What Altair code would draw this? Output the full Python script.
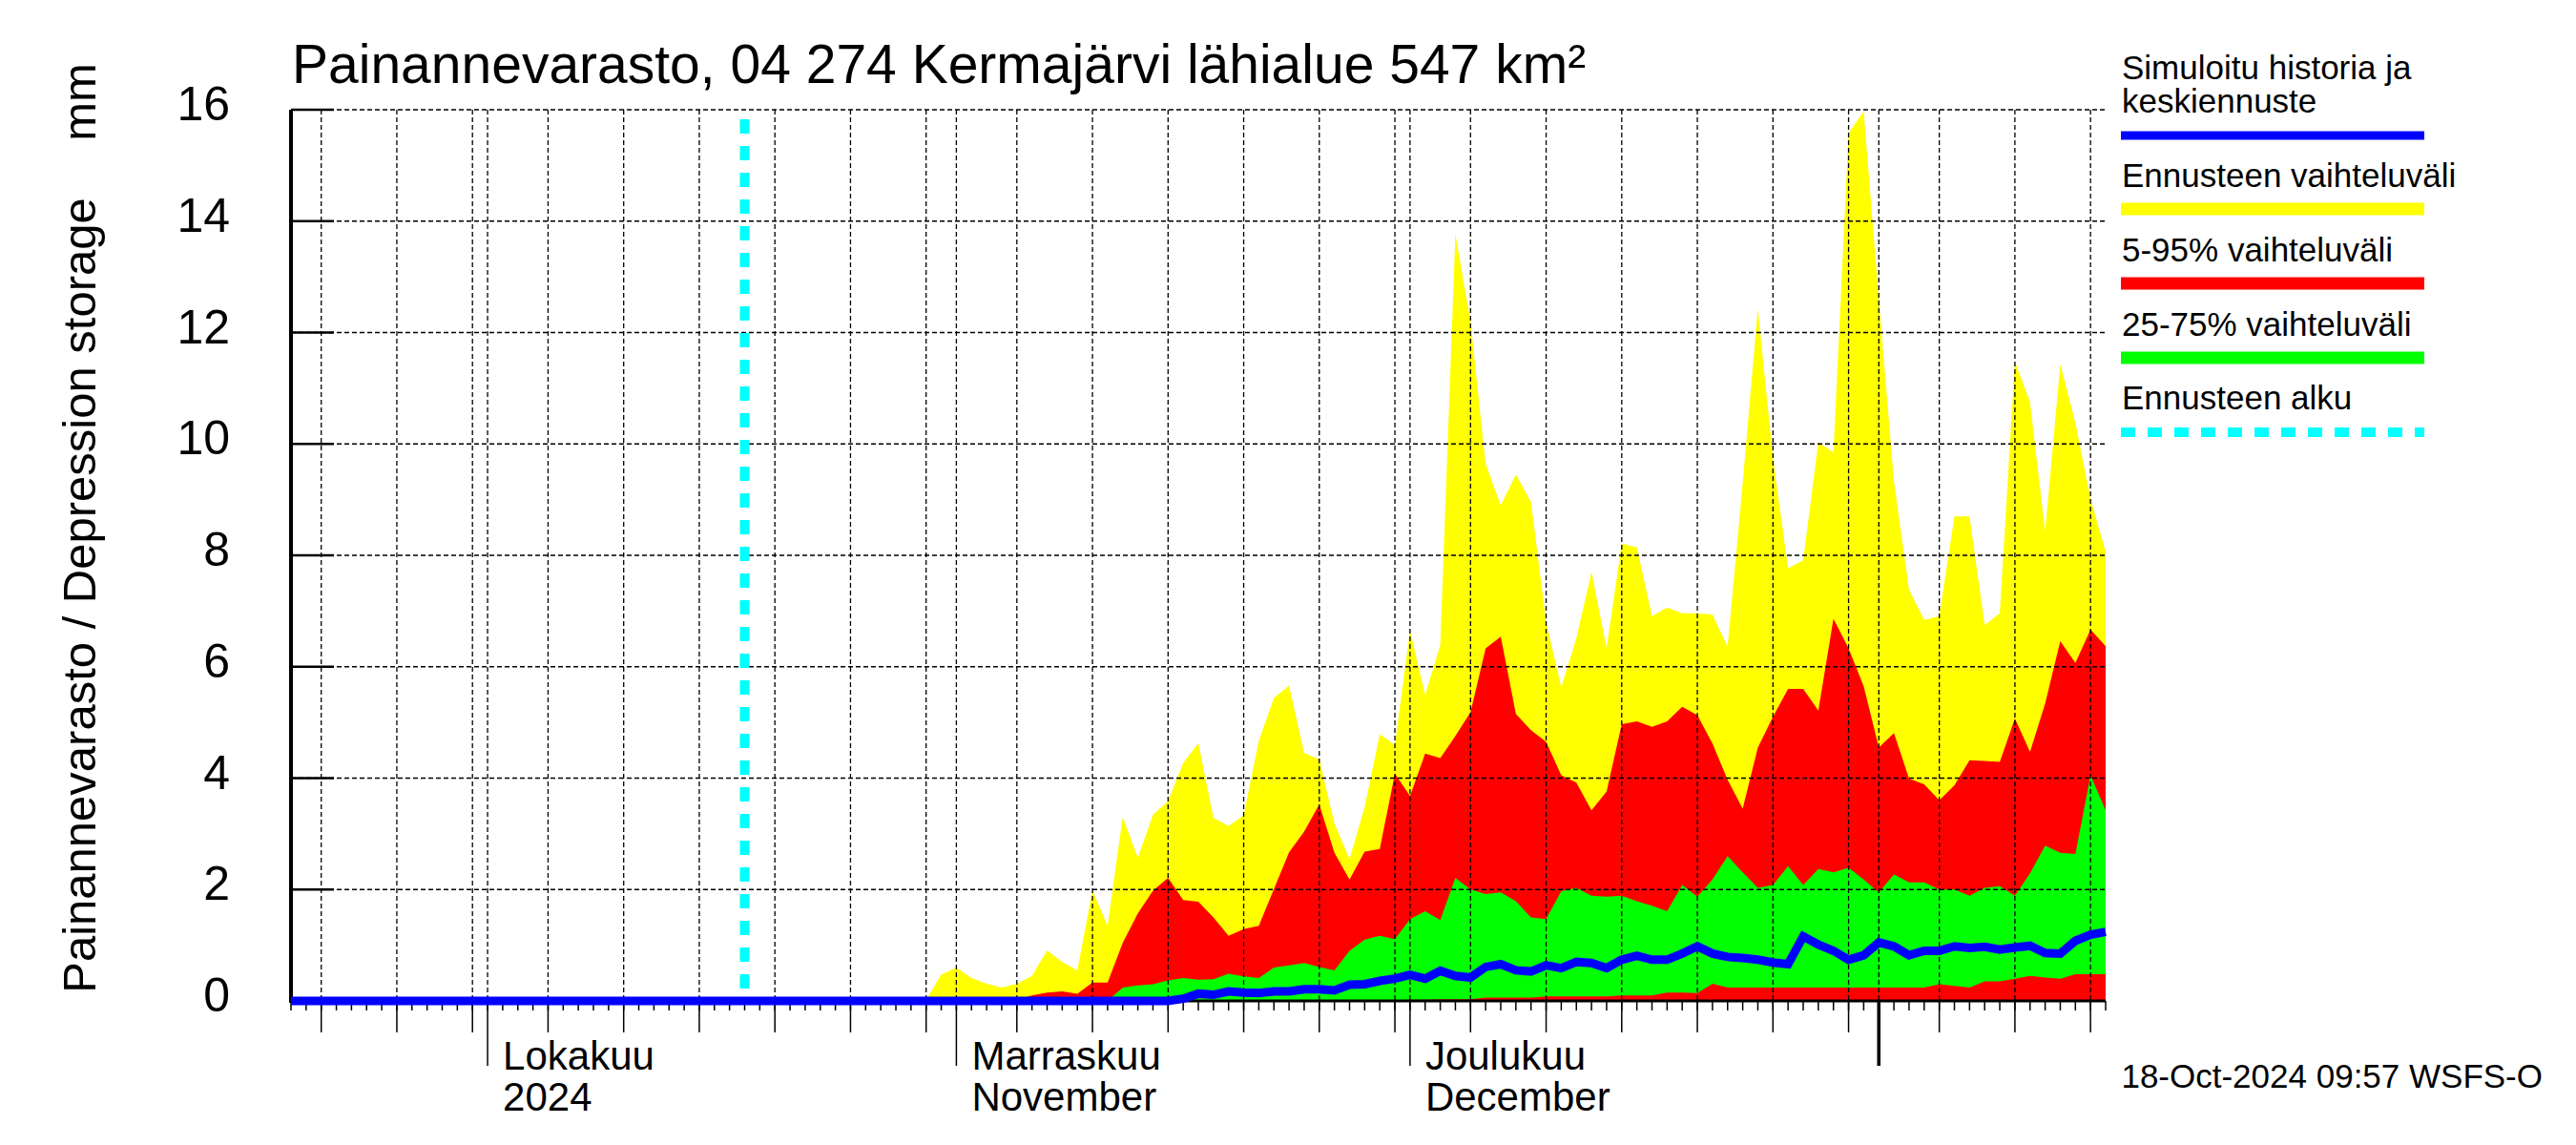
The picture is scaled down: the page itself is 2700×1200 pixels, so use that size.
import altair as alt
import pandas as pd

FONT = "Liberation Sans"

# ---------------- data ----------------
axis_start = "2024-09-18"
axis_end = "2025-01-16"
forecast_start = "2024-10-18"

# forecast period, daily values from 2024-10-18 to 2025-01-16 (91 days)
ens_max = (
    [0.0] * 12 + [0.02, 0.47]  # Oct 18-31
    + [0.60, 0.41, 0.31, 0.24, 0.31, 0.45, 0.91, 0.70, 0.55, 1.98,
       1.35, 3.30, 2.57, 3.34, 3.59, 4.27, 4.63, 3.29, 3.14, 3.33,
       4.67, 5.44, 5.66, 4.45, 4.34, 3.18, 2.55, 3.48, 4.79, 4.60]  # Nov
    + [6.65, 5.49, 6.39, 13.77, 12.20, 9.64, 8.90, 9.45, 8.96, 6.80,
       5.63, 6.51, 7.70, 6.33, 8.21, 8.14, 6.91, 7.06, 6.96, 6.96,
       6.94, 6.36, 9.30, 12.43, 9.75, 7.77, 7.91, 10.03, 9.85, 15.58, 15.97]  # Dec
    + [12.60, 9.33, 7.38, 6.84, 6.91, 8.70, 8.70, 6.75, 6.96, 11.48,
       10.75, 8.43, 11.43, 10.38, 9.01, 8.07]  # Jan
)
ens_min = [0.0] * 91

p95 = (
    [0.0] * 14
    + [0.0, 0.0, 0.0, 0.0, 0.02, 0.10, 0.15, 0.17, 0.13, 0.33,
       0.33, 1.04, 1.57, 1.98, 2.21, 1.81, 1.78, 1.50, 1.17, 1.29,
       1.35, 2.01, 2.67, 3.04, 3.53, 2.66, 2.18, 2.68, 2.73, 4.08]
    + [3.68, 4.44, 4.36, 4.76, 5.18, 6.33, 6.54, 5.15, 4.86, 4.65,
       4.05, 3.92, 3.42, 3.76, 4.97, 5.02, 4.92, 5.02, 5.28, 5.13,
       4.62, 3.97, 3.45, 4.55, 5.10, 5.60, 5.60, 5.21, 6.86, 6.33, 5.65]
    + [4.55, 4.81, 3.99, 3.89, 3.60, 3.87, 4.32, 4.31, 4.29, 5.07,
       4.47, 5.34, 6.46, 6.07, 6.67, 6.37]
)
p05 = [0.0] * 91

p75 = (
    [0.0] * 14
    + [0.0] * 11
    + [0.24, 0.28, 0.30, 0.37, 0.41, 0.38, 0.39, 0.49, 0.44, 0.41,
       0.60, 0.64, 0.68, 0.61, 0.55, 0.90, 1.10, 1.17, 1.11]
    + [1.47, 1.61, 1.45, 2.21, 2.00, 1.92, 1.95, 1.79, 1.50, 1.47,
       1.97, 2.03, 1.89, 1.87, 1.89, 1.79, 1.71, 1.61, 2.08, 1.87,
       2.18, 2.60, 2.31, 2.03, 2.08, 2.42, 2.08, 2.37, 2.31, 2.39, 2.18]
    + [1.95, 2.27, 2.13, 2.13, 2.00, 2.00, 1.89, 2.03, 2.06, 1.89,
       2.29, 2.79, 2.66, 2.64, 4.05, 3.42]
)
p25 = (
    [0.0] * 14 + [0.0] * 30
    + [0.02, 0.02, 0.03, 0.03, 0.03, 0.06, 0.06, 0.06, 0.06, 0.08,
       0.08, 0.08, 0.08, 0.08, 0.10, 0.10, 0.10, 0.15, 0.15, 0.14,
       0.31, 0.24, 0.24, 0.24, 0.24, 0.24, 0.24, 0.24, 0.24, 0.24, 0.24]
    + [0.24, 0.24, 0.24, 0.24, 0.30, 0.27, 0.24, 0.35, 0.35, 0.40,
       0.45, 0.42, 0.40, 0.48, 0.48, 0.48]
)

# simulated history + mean forecast, daily from 2024-09-18 to 2025-01-16
mean_line = (
    [0.0] * 30  # history Sep 18 - Oct 17
    + [0.0] * 14 + [0.0] * 15
    + [0.04, 0.13, 0.11, 0.17, 0.15, 0.14, 0.17, 0.17, 0.21, 0.21,
       0.19, 0.29, 0.30, 0.36, 0.40]
    + [0.47, 0.40, 0.54, 0.45, 0.42, 0.61, 0.66, 0.55, 0.53, 0.64,
       0.59, 0.70, 0.68, 0.59, 0.74, 0.81, 0.74, 0.74, 0.85, 0.98,
       0.85, 0.79, 0.77, 0.74, 0.69, 0.66, 1.16, 1.01, 0.90, 0.74, 0.82]
    + [1.05, 0.98, 0.82, 0.90, 0.90, 0.98, 0.95, 0.97, 0.92, 0.96,
       0.99, 0.86, 0.85, 1.08, 1.19, 1.24]
)

y_ticks = [0, 2, 4, 6, 8, 10, 12, 14, 16]
month_starts = ["2024-10-01", "2024-11-01", "2024-12-01"]
month_fi = ["Lokakuu", "Marraskuu", "Joulukuu"]
month_en = ["2024", "November", "December"]
year_start = ["2025-01-01"]

title_text = "Painannevarasto, 04 274 Kermajärvi lähialue 547 km²"
ytitle_text = "Painannevarasto / Depression storage"
unit_text = "mm"
stamp_text = "18-Oct-2024 09:57 WSFS-O"
legend_labels = ["Simuloitu historia ja", "keskiennuste", "Ennusteen vaihteluväli",
                 "5-95% vaihteluväli", "25-75% vaihteluväli", "Ennusteen alku"]

# ---------------- tables ----------------
def ms(d):
    return int(pd.Timestamp(d, tz="UTC").timestamp() * 1000)

fc_days = pd.date_range(forecast_start, axis_end, freq="D")
all_days = pd.date_range(axis_start, axis_end, freq="D")

bands = pd.DataFrame({
    "t": [ms(d) for d in fc_days],
    "ens_min": ens_min, "ens_max": ens_max,
    "p05": p05, "p95": p95, "p25": p25, "p75": p75,
})
line_df = pd.DataFrame({"t": [ms(d) for d in all_days], "v": mean_line})

day_ticks = pd.DataFrame({"t": [ms(d) for d in all_days]})
five_days = [d for d in all_days if d.day in (1, 5, 10, 15, 20, 25, 30)]
grid_x = pd.DataFrame({"t": [ms(d) for d in five_days]})
five_only = pd.DataFrame({"t": [ms(d) for d in five_days if d.day != 1]})
months_df = pd.DataFrame({
    "t": [ms(d) for d in month_starts],
    "label": [a + "\n" + b for a, b in zip(month_fi, month_en)],
})
year_df = pd.DataFrame({"t": [ms(d) for d in year_start]})
ygrid = pd.DataFrame({"v": y_ticks[1:]})
yt = pd.DataFrame({"v": y_ticks, "lab": [str(v) for v in y_ticks]})
one = pd.DataFrame({"a": [0]})

W, H = 1902, 934

x_scale = alt.Scale(type="utc", domain=[ms(axis_start), ms(axis_end)])
y_scale = alt.Scale(domain=[0, 16], nice=False, zero=True)


def X(f="t"):
    return alt.X(f"{f}:T", scale=x_scale, axis=None)


def Y(f):
    return alt.Y(f"{f}:Q", scale=y_scale, axis=None)


layers = []
# bands
layers.append(alt.Chart(bands).mark_area(color="#FFFF00", opacity=1)
              .encode(x=X(), y=Y("ens_max"), y2="ens_min:Q"))
layers.append(alt.Chart(bands).mark_area(color="#FF0000", opacity=1)
              .encode(x=X(), y=Y("p95"), y2="p05:Q"))
layers.append(alt.Chart(bands).mark_area(color="#00FF00", opacity=1)
              .encode(x=X(), y=Y("p25"), y2="p75:Q"))

# grid (drawn over the bands)
grid_style = dict(color="black", strokeWidth=1.3, strokeDash=[5, 3])
layers.append(alt.Chart(ygrid).mark_rule(**grid_style)
              .encode(y=Y("v"), x=alt.value(0), x2=alt.value(W)))
layers.append(alt.Chart(grid_x).mark_rule(**grid_style)
              .encode(x=X(), y=alt.value(0), y2=alt.value(H)))

# y axis: ticks inside the plot, domain line, labels
layers.append(alt.Chart(yt).mark_rule(color="black", strokeWidth=2.5)
              .encode(y=Y("v"), x=alt.value(0), x2=alt.value(45)))
layers.append(alt.Chart(one).mark_rule(color="black", strokeWidth=4)
              .encode(x=alt.value(0), y=alt.value(0), y2=alt.value(H + 2)))
layers.append(alt.Chart(yt).mark_text(align="right", baseline="middle", fontSize=50,
                                      font=FONT, color="black", dy=-4)
              .encode(y=Y("v"), x=alt.value(-64), text="lab:N"))

# x axis line and ticks
layers.append(alt.Chart(one).mark_rule(color="black", strokeWidth=3)
              .encode(x=alt.value(0), x2=alt.value(W), y=alt.value(H)))
layers.append(alt.Chart(day_ticks).mark_rule(color="black", strokeWidth=1.5)
              .encode(x=X(), y=alt.value(H), y2=alt.value(H + 10)))
layers.append(alt.Chart(five_only).mark_rule(color="black", strokeWidth=1.5)
              .encode(x=X(), y=alt.value(H), y2=alt.value(H + 33)))
layers.append(alt.Chart(months_df).mark_rule(color="black", strokeWidth=1.5)
              .encode(x=X(), y=alt.value(H), y2=alt.value(H + 68)))
layers.append(alt.Chart(year_df).mark_rule(color="black", strokeWidth=3.5)
              .encode(x=X(), y=alt.value(H), y2=alt.value(H + 68)))
layers.append(alt.Chart(months_df).mark_text(align="left", baseline="alphabetic", dx=16,
                                             fontSize=42, font=FONT, color="black",
                                             lineBreak="\n", lineHeight=43)
              .encode(x=X(), y=alt.value(H + 72), text="label:N"))

# forecast start
fc_df = pd.DataFrame({"t": [ms(forecast_start)]})
layers.append(alt.Chart(fc_df).mark_rule(color="#00FFFF", strokeWidth=10,
                                         strokeDash=[15, 13], strokeDashOffset=18)
              .encode(x=X(), y=alt.value(0), y2=alt.value(H)))

# mean / history line
layers.append(alt.Chart(line_df).mark_line(color="#0000FF", strokeWidth=9, strokeCap="butt")
              .encode(x=X(), y=Y("v")))


# texts
def text(t, x, y, size, align="left", angle=0, baseline="alphabetic"):
    return (alt.Chart(one).mark_text(text=t, align=align, baseline=baseline, angle=angle,
                                      fontSize=size, font=FONT, color="black")
            .encode(x=alt.value(x), y=alt.value(y)))


layers.append(text(title_text, 1, -28, 57))
layers.append(text(ytitle_text, -205, 509, 49, align="center", angle=270))
layers.append(text(unit_text, -205, -8, 49, align="center", angle=270))
layers.append(text(stamp_text, 2360, 1025, 35, align="right"))

# legend
LX = 1919
leg_y = [-32, 3, 81, 159, 237, 314]
for lab, yy in zip(legend_labels, leg_y):
    layers.append(text(lab, LX, yy, 35))


def leg_line(color, y, width, dash=None):
    kw = dict(color=color, strokeWidth=width, strokeCap="butt")
    if dash:
        kw["strokeDash"] = dash
    return (alt.Chart(one).mark_rule(**kw)
            .encode(x=alt.value(1918), x2=alt.value(2236), y=alt.value(y)))


layers.append(leg_line("#0000FF", 27, 9))
layers.append(leg_line("#FFFF00", 104, 13))
layers.append(leg_line("#FF0000", 182, 13))
layers.append(leg_line("#00FF00", 260, 13))
layers.append(leg_line("#00FFFF", 338, 10, [15, 13]))

chart = (alt.layer(*layers)
         .properties(width=W, height=H, background="white",
                     padding={"left": 297, "top": 107, "right": 485, "bottom": 137},
                     autosize=alt.AutoSizeParams(type="none"))
         .configure_view(stroke=None))

chart.save("out.html", embed_options={"renderer": "svg", "actions": False})
